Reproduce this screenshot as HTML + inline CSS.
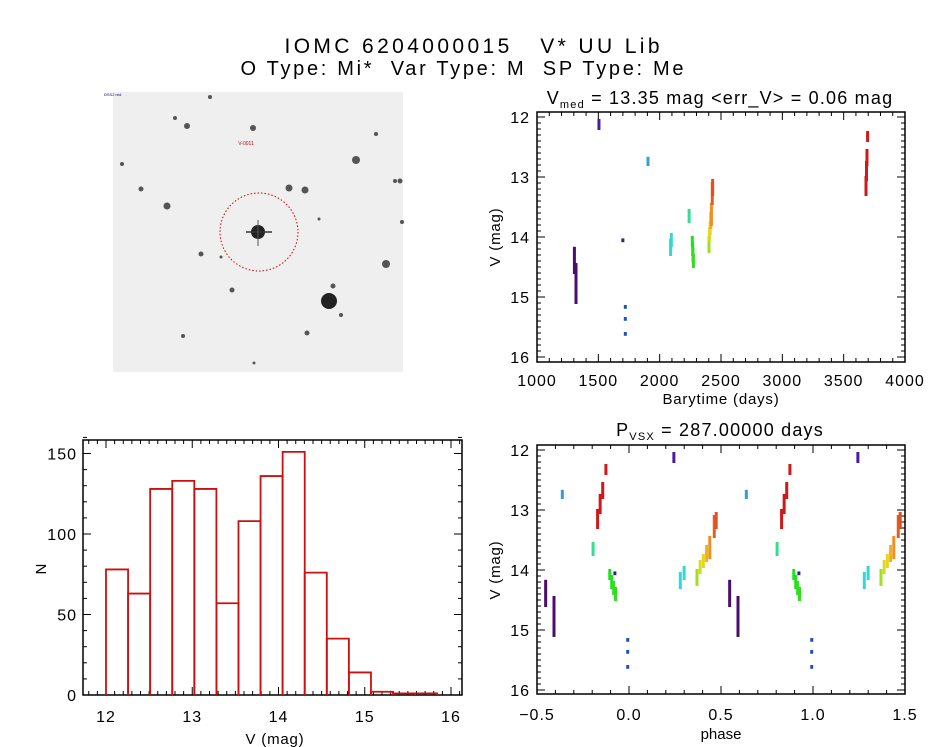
<!DOCTYPE html>
<html><head><meta charset="utf-8"><style>
body{margin:0;background:#fff;}
svg{display:block;font-family:"Liberation Sans","DejaVu Sans",sans-serif;}
</style></head><body>
<svg id="s" width="944" height="747" viewBox="0 0 944 747">
<text x="472" y="53" font-size="21" text-anchor="middle" textLength="375" lengthAdjust="spacing" xml:space="preserve">IOMC 6204000015   V* UU Lib</text>
<text x="462" y="75" font-size="20" text-anchor="middle" textLength="443" lengthAdjust="spacing" xml:space="preserve">O Type: Mi*  Var Type: M  SP Type: Me</text>
<g id="img">
<rect x="113" y="92" width="290" height="280" fill="#efefef"/>
</g>
<g id="tr"></g>
<g id="br"></g>
<g id="hist"></g>
</svg>
<script>
// ---- light curve data (segments: time, mag start, mag end, color) ----
const segTime=[1305,1318,1505,1700,1720,1720,1720,1905,2089,2095,2240,2266,2269,2272,2275,2402,2407,2412,2417,2422,2429,2432,3682,3686,3690,3695];
const segMag1=[14.18,14.45,12.05,14.04,15.15,15.35,15.6,12.68,14.05,13.95,13.55,14.0,14.1,14.2,14.3,14.0,13.85,13.75,13.6,13.45,13.1,13.05,13.0,12.75,12.55,12.25];
const segMag2=[14.6,15.1,12.2,14.07,15.18,15.38,15.63,12.8,14.3,14.15,13.75,14.15,14.3,14.4,14.5,14.25,14.05,13.95,13.85,13.8,13.45,13.3,13.3,13.05,12.8,12.4];
const segColor=["#4b0e6e","#4b0e6e","#4a1aa0","#203070","#2050c0","#2050c0","#2050c0","#30a0d0","#30d8d8","#30d8d8","#30e090","#20e020","#20e020","#30e020","#30e020","#a0e020","#d0e020","#f0d020","#f0b020","#f09020","#e06020","#e05020","#d01818","#d01818","#d01818","#d01818"];
const period=287;
// ---- histogram data ----
const histStart=12.0, histWidth=0.256;
const histCounts=[78,63,128,133,128,57,108,136,151,76,35,14,2,1,1];
const histXTicks=[12,13,14,15,16];
const histYTicks=[0,50,100,150];
const timeTicks=[1000,1500,2000,2500,3000,3500,4000];
const phaseTicks=["-0.5","0.0","0.5","1.0","1.5"];
const magTicks=[12,13,14,15,16];
const stars=[[258,232,7],[329,301,8],[356,160,4],[289,188,3.5],[305,190,3.5],[386,264,4],[167,206,3.5],[253,128,3],[187,126,3],[141,189,2.5],[201,254,2.5],[232,290,2.5],[307,333,2.5],[333,286,2.5],[400,181,2.5],[175,118,2],[210,97,2],[402,222,2],[122,164,2],[376,134,2],[254,363,1.5],[183,336,2],[221,257,1.5],[395,181,2],[319,219,1.5],[341,315,2]];

const NS="http://www.w3.org/2000/svg";
function mk(p,t,a){const e=document.createElementNS(NS,t);for(const k in a)e.setAttribute(k,a[k]);p.appendChild(e);return e;}

// sky image
const img=document.getElementById('img');
stars.forEach(s=>{
 const c=mk(img,'circle',{cx:s[0],cy:s[1],r:s[2],fill:'#222',opacity:s[2]>5?1:0.75});
 
 
});
mk(img,'line',{x1:246,y1:232,x2:272,y2:232,stroke:'#333','stroke-width':1.5});
mk(img,'line',{x1:258,y1:220,x2:258,y2:246,stroke:'#555','stroke-width':1});
const circ=mk(img,'circle',{cx:259,cy:232,r:39,fill:'none',stroke:'#c00','stroke-width':1,'stroke-dasharray':'1.5,2'});


const lb=mk(img,'text',{x:246,y:145,'font-size':5,fill:'#c00','text-anchor':'middle'});lb.textContent='V-0011';


const lb2=mk(img,'text',{x:104,y:96,'font-size':4,fill:'#005'});lb2.textContent='DSS2 red';



function axesBox(g,x0,y0,x1,y1){mk(g,'rect',{x:x0,y:y0,width:x1-x0,height:y1-y0,fill:'none',stroke:'#000','stroke-width':1.5});}

// ---- top-right time plot ----
(function(){
 const g=document.getElementById('tr');
 const X0=537,X1=905,Y0=112,Y1=362;
 const xs=t=>X0+(t-1000)/3000*(X1-X0);
 const ys=m=>117+(m-12)/4*240;
 axesBox(g,X0,Y0,X1,Y1);
 for(let t=1000;t<=4000;t+=100){const x=xs(t),L=(t%500==0)?8:4;mk(g,'line',{x1:x,y1:Y1,x2:x,y2:Y1-L,stroke:'#000'});mk(g,'line',{x1:x,y1:Y0,x2:x,y2:Y0+L,stroke:'#000'});}
 for(let m=12;m<=16.001;m+=0.1){const y=ys(m),L=(Math.abs(m-Math.round(m))<0.01)?8:4;mk(g,'line',{x1:X0,y1:y,x2:X0+L,y2:y,stroke:'#000'});mk(g,'line',{x1:X1,y1:y,x2:X1-L,y2:y,stroke:'#000'});}
 timeTicks.forEach(t=>{const e=mk(g,'text',{x:xs(t),y:386,'font-size':16,'text-anchor':'middle','letter-spacing':1});e.textContent=t;
  
  });
 magTicks.forEach(m=>{const e=mk(g,'text',{x:530,y:ys(m)+6,'font-size':16,'text-anchor':'end','letter-spacing':1});e.textContent=m;
  
  });
 const xt=mk(g,'text',{x:721,y:404,'font-size':15,'text-anchor':'middle','letter-spacing':0.8});xt.textContent='Barytime (days)';
 
 
 const yt=mk(g,'text',{x:0,y:0,'font-size':15,'text-anchor':'middle','letter-spacing':0.8,transform:'translate(500,237) rotate(-90)'});yt.textContent='V (mag)';
 
 
 const tt=mk(g,'text',{x:720,y:104,'font-size':18,'text-anchor':'middle','letter-spacing':1.2});
 tt.innerHTML='V<tspan font-size="11" dy="4">med</tspan><tspan dy="-4"> = 13.35 mag &lt;err_V&gt; = 0.06 mag</tspan>';
 
 
 segTime.forEach((t,i)=>{const l=mk(g,'line',{x1:xs(t),x2:xs(t),y1:ys(segMag1[i])-1,y2:ys(segMag2[i])+1,stroke:segColor[i],'stroke-width':3});
  
  });
})();

// ---- bottom-right phase plot ----
(function(){
 const g=document.getElementById('br');
 const X0=537,X1=905,Y0=445,Y1=694;
 const xs=p=>X0+(p+0.5)/2*(X1-X0);
 const ys=m=>450+(m-12)/4*240;
 axesBox(g,X0,Y0,X1,Y1);
 for(let k=0;k<=20;k++){const p=-0.5+k*0.1,x=xs(p),L=(k%5==0)?8:4;mk(g,'line',{x1:x,y1:Y1,x2:x,y2:Y1-L,stroke:'#000'});mk(g,'line',{x1:x,y1:Y0,x2:x,y2:Y0+L,stroke:'#000'});}
 for(let k=0;k<=40;k++){const y=ys(12+k*0.1),L=(k%10==0)?8:4;mk(g,'line',{x1:X0,y1:y,x2:X0+L,y2:y,stroke:'#000'});mk(g,'line',{x1:X1,y1:y,x2:X1-L,y2:y,stroke:'#000'});}
 phaseTicks.forEach(p=>{const e=mk(g,'text',{x:xs(parseFloat(p)),y:720,'font-size':16,'text-anchor':'middle','letter-spacing':1});e.textContent=p.replace('-','\u2212');
  
  });
 magTicks.forEach(m=>{const e=mk(g,'text',{x:530,y:ys(m)+6,'font-size':16,'text-anchor':'end','letter-spacing':1});e.textContent=m;
  
  });
 const xt=mk(g,'text',{x:721,y:739,'font-size':15,'text-anchor':'middle'});xt.textContent='phase';
 
 
 const yt=mk(g,'text',{x:0,y:0,'font-size':15,'text-anchor':'middle','letter-spacing':0.8,transform:'translate(500,570) rotate(-90)'});yt.textContent='V (mag)';
 
 
 const tt=mk(g,'text',{x:720,y:436,'font-size':18,'text-anchor':'middle','letter-spacing':1.2});
 tt.innerHTML='P<tspan font-size="11" dy="4">VSX</tspan><tspan dy="-4"> = 287.00000 days</tspan>';
 
 
 segTime.forEach((t,i)=>{const ph=(t/period)%1;[ph-1,ph,ph+1].forEach(p=>{if(p<-0.5||p>1.5)return;
  const l=mk(g,'line',{x1:xs(p),x2:xs(p),y1:ys(segMag1[i])-1,y2:ys(segMag2[i])+1,stroke:segColor[i],'stroke-width':3});
  
  });});
})();

// ---- histogram ----
(function(){
 const g=document.getElementById('hist');
 const X0=83,X1=462,Y0=440,Y1=695;
 const xs=v=>106+(v-12)*86.25;
 const ys=n=>695-n/50*80.5;
 axesBox(g,X0,Y0,X1,Y1);
 for(let k=-2;k<=42;k++){const v=12+k*0.1,x=xs(v);if(x<X0||x>X1)continue;const L=(k%10==0)?8:4;mk(g,'line',{x1:x,y1:Y1,x2:x,y2:Y1-L,stroke:'#000'});mk(g,'line',{x1:x,y1:Y0,x2:x,y2:Y0+L,stroke:'#000'});}
 for(let n=0;n<=160;n+=10){const y=ys(n),L=(n%50==0)?8:4;mk(g,'line',{x1:X0,y1:y,x2:X0+L,y2:y,stroke:'#000'});mk(g,'line',{x1:X1,y1:y,x2:X1-L,y2:y,stroke:'#000'});}
 histXTicks.forEach(v=>{const e=mk(g,'text',{x:xs(v),y:722,'font-size':16,'text-anchor':'middle','letter-spacing':1});e.textContent=v;
  
  });
 histYTicks.forEach(n=>{const e=mk(g,'text',{x:77,y:ys(n)+6,'font-size':16,'text-anchor':'end','letter-spacing':1});e.textContent=n;
  
  });
 const xt=mk(g,'text',{x:275,y:744,'font-size':15,'text-anchor':'middle','letter-spacing':0.8});xt.textContent='V (mag)';
 
 
 const yt=mk(g,'text',{x:0,y:0,'font-size':15,'text-anchor':'middle',transform:'translate(36,569) rotate(90)'});yt.textContent='N';
 
 
 histCounts.forEach((c,i)=>{const a=histStart+i*histWidth,b=a+histWidth;
  const r=mk(g,'path',{d:`M${xs(a)},${ys(0)}V${ys(c)}H${xs(b)}V${ys(0)}`,fill:'none',stroke:'#cc1010','stroke-width':1.8});
  
  });
})();
</script>
</body></html>
